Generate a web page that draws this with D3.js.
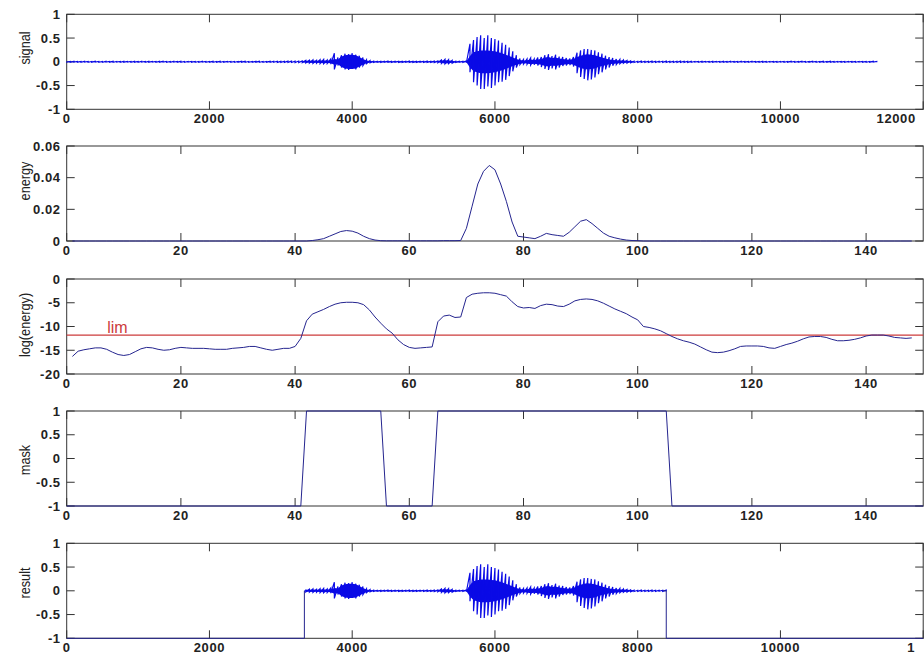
<!DOCTYPE html>
<html>
<head>
<meta charset="utf-8">
<script src="https://cdn.jsdelivr.net/npm/d3@7"></script>
<style>
  body { margin: 0; background: #fff; }
  svg text { font-family: "Liberation Sans", Arial, sans-serif; }
</style>
</head>
<body>
<div id="chart"></div>
<script>
// signal envelope, one max/min pair every 50 samples
const binStep = 50;
const sigHi = [
  0.008,0.006,0.009,0.007,0.008,0.01,0.007,0.008,0.009,0.006,0.008,0.01,0.007,0.009,0.008,0.007,0.01,0.008,0.006,0.009,
  0.008,0.01,0.007,0.009,0.008,0.006,0.009,0.01,0.008,0.007,0.009,0.008,0.01,0.007,0.008,0.009,0.006,0.008,0.01,0.008,
  0.007,0.009,0.008,0.01,0.007,0.008,0.009,0.006,0.008,0.01,0.009,0.007,0.008,0.009,0.01,0.008,0.007,0.009,0.01,0.011,
  0.01,0.012,0.013,0.015,0.014,0.016,
  0.02,0.03,0.035,0.04,0.03,0.045,0.05,0.04,0.06,0.18,0.09,0.14,0.17,0.16,0.18,0.15,0.13,0.09,0.04,0.025,0.015,
  0.012,0.01,0.011,0.013,0.01,0.012,0.011,0.01,0.012,0.013,0.011,0.01,0.012,0.011,0.013,0.012,0.015,
  0.02,0.04,0.05,0.045,0.03,0.012,0.01,0.011,0.02,
  0.38,0.46,0.52,0.56,0.5,0.56,0.5,0.48,0.45,0.4,0.36,0.3,0.22,0.14,0.07,0.05,0.06,0.08,0.06,0.09,
  0.1,0.14,0.16,0.12,0.15,0.11,0.1,0.08,0.07,0.1,0.19,0.24,0.27,0.27,0.25,0.24,0.2,0.17,0.13,0.1,
  0.08,0.06,0.05,0.04,0.03,0.02,0.015,
  0.012,0.013,0.012,0.011,0.013,0.012,0.012,0.011,0.013,0.012,0.011,0.012,0.013,0.012,0.011,0.01,
  0.008,0.007,0.009,0.008,0.006,0.009,0.008,0.007,0.009,0.008,0.01,0.007,0.008,0.009,0.006,0.008,0.009,0.007,0.008,0.01,
  0.007,0.008,0.009,0.006,0.008,0.009,0.007,0.01,0.008,0.007,0.009,0.008,0.006,0.009,0.008,0.007,0.009,0.008,0.01,0.007,
  0.008,0.009,0.007,0.008,0.009,0.006,0.008,0.009,0.007,0.008,0.009,0.008
];
const sigLo = [
  -0.007,-0.009,-0.006,-0.008,-0.01,-0.007,-0.009,-0.008,-0.006,-0.009,-0.01,-0.007,-0.008,-0.009,-0.006,-0.01,-0.008,-0.007,-0.009,-0.008,
  -0.009,-0.007,-0.01,-0.008,-0.006,-0.009,-0.008,-0.007,-0.01,-0.009,-0.007,-0.008,-0.009,-0.01,-0.007,-0.008,-0.009,-0.01,-0.007,-0.009,
  -0.008,-0.01,-0.007,-0.009,-0.008,-0.006,-0.01,-0.009,-0.007,-0.008,-0.01,-0.009,-0.008,-0.007,-0.009,-0.01,-0.008,-0.011,-0.009,-0.012,
  -0.011,-0.013,-0.012,-0.014,-0.015,-0.016,
  -0.02,-0.025,-0.03,-0.035,-0.03,-0.04,-0.04,-0.035,-0.05,-0.16,-0.08,-0.12,-0.16,-0.17,-0.15,-0.16,-0.12,-0.08,-0.04,-0.02,-0.015,
  -0.011,-0.012,-0.01,-0.011,-0.013,-0.01,-0.012,-0.011,-0.01,-0.012,-0.013,-0.011,-0.01,-0.012,-0.011,-0.013,-0.014,
  -0.02,-0.035,-0.045,-0.04,-0.03,-0.012,-0.011,-0.01,-0.02,
  -0.22,-0.43,-0.5,-0.57,-0.57,-0.52,-0.55,-0.5,-0.43,-0.42,-0.38,-0.3,-0.2,-0.12,-0.06,-0.05,-0.05,-0.07,-0.06,-0.08,
  -0.11,-0.15,-0.17,-0.14,-0.16,-0.12,-0.09,-0.08,-0.07,-0.1,-0.24,-0.32,-0.36,-0.39,-0.37,-0.33,-0.26,-0.22,-0.16,-0.12,
  -0.08,-0.06,-0.04,-0.03,-0.03,-0.02,-0.015,
  -0.012,-0.011,-0.013,-0.012,-0.012,-0.013,-0.011,-0.012,-0.012,-0.013,-0.012,-0.011,-0.012,-0.013,-0.012,-0.01,
  -0.007,-0.009,-0.008,-0.006,-0.009,-0.008,-0.007,-0.009,-0.008,-0.01,-0.007,-0.008,-0.009,-0.006,-0.008,-0.009,-0.007,-0.008,-0.01,-0.008,
  -0.009,-0.007,-0.008,-0.009,-0.007,-0.01,-0.008,-0.007,-0.009,-0.008,-0.006,-0.009,-0.008,-0.007,-0.009,-0.008,-0.01,-0.007,-0.008,-0.009,
  -0.007,-0.008,-0.009,-0.006,-0.008,-0.009,-0.007,-0.008,-0.009,-0.008,-0.007,-0.009
];
// half-width of the solid dense band inside the voiced parts, bins from sample 3300
const coreStart = 3300;
const sigCore = [
  0.015,0.02,0.02,0.025,0.02,0.025,0.03,0.025,0.03,
  0.06,0.05,0.11,0.14,0.15,0.15,0.14,0.1,0.06,0.03,0.015,0.01,
  0.008,0.008,0.008,0.009,0.008,0.008,0.009,0.008,0.008,0.009,0.008,0.008,0.009,0.008,0.008,0.009,0.008,
  0.01,0.025,0.035,0.03,0.02,0.008,0.008,0.008,0.01,
  0.12,0.2,0.22,0.24,0.24,0.24,0.23,0.22,0.2,0.18,0.15,0.12,0.09,0.06,0.04,
  0.03,0.035,0.05,0.04,0.05,0.06,0.09,0.1,0.08,0.09,0.07,0.06,0.05,0.045,0.06,
  0.1,0.13,0.15,0.16,0.15,0.14,0.11,0.09,0.07,0.05,0.04,0.035,0.03,0.025,0.02,0.015,0.01
];

// per-frame values, frames 1..n
const energy = [
  0,0,0,0,0,0,0,0,0,0, 0,0,0,0,0,0,0,0,0,0,
  0,0,0,0,0,0,0,0,0,0, 0,0,0,0,0,0,0,0,0,0,
  0,0,0.0003,0.0008,0.0015,0.003,0.0045,0.006,0.0066,0.0062,
  0.005,0.003,0.0015,0.0006,0.0002,0.0001,0.0001,0.0001,0.0001,0.0001,
  0.0001,0.0001,0.0001,0.0001,0.0001,0.0002,0.0002,0.0002,0.0003,0.008,
  0.022,0.036,0.044,0.0477,0.045,0.036,0.025,0.012,0.003,0.0025,
  0.002,0.0015,0.003,0.0048,0.004,0.0035,0.003,0.0055,0.009,0.0125,
  0.0135,0.011,0.008,0.005,0.003,0.002,0.0012,0.0006,0.0003,0.0002,
  0,0,0,0,0,0,0,0,0,0, 0,0,0,0,0,0,0,0,0,0,
  0,0,0,0,0,0,0,0,0,0, 0,0,0,0,0,0,0,0,0,0,
  0,0,0,0,0,0,0,0
];
const logEnergy = [
  -16.3,-15.2,-14.9,-14.7,-14.5,-14.5,-14.8,-15.4,-15.9,-16.1,
  -15.9,-15.3,-14.7,-14.4,-14.5,-14.8,-15.0,-14.9,-14.6,-14.4,
  -14.5,-14.6,-14.6,-14.6,-14.7,-14.8,-14.8,-14.8,-14.6,-14.5,
  -14.4,-14.2,-14.2,-14.5,-14.8,-15.0,-14.8,-14.6,-14.6,-14.2,
  -12.5,-8.8,-7.4,-6.9,-6.4,-5.8,-5.3,-5.0,-4.9,-4.9,
  -5.0,-5.4,-6.5,-8.0,-9.3,-10.5,-11.4,-12.8,-13.8,-14.4,
  -14.6,-14.5,-14.4,-14.3,-9.0,-7.8,-7.6,-8.1,-8.0,-3.9,
  -3.2,-3.0,-2.9,-2.9,-3.0,-3.3,-3.6,-4.8,-5.8,-6.1,
  -6.0,-6.2,-5.6,-5.3,-5.4,-5.7,-5.8,-5.3,-4.6,-4.3,
  -4.2,-4.3,-4.6,-5.1,-5.7,-6.3,-6.8,-7.3,-8.0,-8.6,
  -10.0,-10.2,-10.5,-10.9,-11.5,-12.1,-12.6,-13.0,-13.3,-13.7,
  -14.3,-14.9,-15.4,-15.5,-15.4,-15.1,-14.7,-14.2,-14.1,-14.1,
  -14.1,-14.2,-14.5,-14.6,-14.2,-13.8,-13.5,-13.1,-12.6,-12.2,
  -12.1,-12.1,-12.3,-12.7,-13.0,-13.0,-12.9,-12.7,-12.4,-12.0,
  -11.8,-11.8,-11.8,-12.0,-12.3,-12.4,-12.5,-12.4
];
const lim = -11.8;

// mask breakpoints (frame, value)
const maskFrames = [0, 41, 42, 55, 56, 64, 65, 105, 106, 150];
const maskValues = [-1, -1, 1, 1, -1, -1, 1, 1, -1, -1];

// result keeps the signal between these samples, -1 elsewhere
const speechStart = 3330, speechEnd = 8400;

const sampleTicks = [0, 2000, 4000, 6000, 8000, 10000, 12000];
const frameTicks = [0, 20, 40, 60, 80, 100, 120, 140];
const unitTicks = [-1, -0.5, 0, 0.5, 1];
const energyTicks = [0, 0.02, 0.04, 0.06];
const logTicks = [-20, -15, -10, -5, 0];

const width = 924, height = 655;
const left = 66.7, right = 923.2, panelH = 95;
const tickFont = 13, tickSpacing = 0.6;

const svg = d3.select("#chart").append("svg")
    .attr("width", width)
    .attr("height", height);

// one subplot: frame, ticks on all four sides, labels on left/bottom
function panel(top, xDom, yDom, xTicks, yTicks, label, labelY, xLabel) {
    const x = d3.scaleLinear().domain(xDom).range([left, right]);
    const y = d3.scaleLinear().domain(yDom).range([top + panelH, top]);
    const g = svg.append("g");

    g.append("rect")
        .attr("x", left).attr("y", top)
        .attr("width", right - left).attr("height", panelH)
        .attr("fill", "none")
        .attr("stroke", "#333")
        .attr("stroke-width", 1);

    const tickLen = 8;
    xTicks.forEach(t => {
        g.append("line").attr("x1", x(t)).attr("x2", x(t))
            .attr("y1", top + panelH).attr("y2", top + panelH - tickLen)
            .attr("stroke", "#333");
        g.append("line").attr("x1", x(t)).attr("x2", x(t))
            .attr("y1", top).attr("y2", top + tickLen)
            .attr("stroke", "#333");
    });
    yTicks.forEach(t => {
        g.append("line").attr("x1", left).attr("x2", left + tickLen)
            .attr("y1", y(t)).attr("y2", y(t))
            .attr("stroke", "#333");
        g.append("line").attr("x1", right).attr("x2", right - tickLen)
            .attr("y1", y(t)).attr("y2", y(t))
            .attr("stroke", "#333");
    });

    g.selectAll(".xl")
        .data(xTicks)
        .enter()
        .append("text")
        .attr("x", d => xLabel(d, x))
        .attr("y", top + panelH + 14)
        .attr("text-anchor", "middle")
        .attr("font-size", tickFont)
        .attr("font-weight", "bold")
        .attr("letter-spacing", tickSpacing)
        .attr("fill", "#222")
        .text(d => d);

    g.selectAll(".yl")
        .data(yTicks)
        .enter()
        .append("text")
        .attr("x", left - 6)
        .attr("y", d => y(d))
        .attr("dy", "0.35em")
        .attr("text-anchor", "end")
        .attr("font-size", tickFont)
        .attr("font-weight", "bold")
        .attr("letter-spacing", tickSpacing)
        .attr("fill", "#222")
        .text(d => d);

    g.append("text")
        .attr("transform", `translate(29.5,${labelY}) rotate(-90) scale(0.82,1)`)
        .attr("text-anchor", "middle")
        .attr("font-size", 15.5)
        .attr("fill", "#222")
        .text(label);

    return { g, x, y };
}

const centred = (d, x) => x(d);

// envelope drawn as vertical max-min strokes joined bin to bin
function envelopePoints(from, to) {
    const pts = [];
    sigHi.forEach((h, i) => {
        const s = i * binStep;
        if (s < from || s > to) return;
        pts.push([s, h]);
        pts.push([s, sigLo[i]]);
    });
    return pts;
}

function corePoints(from, to) {
    return sigCore
        .map((c, i) => [coreStart + i * binStep, c])
        .filter(d => d[0] >= from && d[0] <= to);
}

const sigColor = "#0a0ae6";
const lineColor = "#25258f";

function drawSignal(p, from, to) {
    p.g.append("path")
        .datum(corePoints(from, to))
        .attr("fill", sigColor)
        .attr("d", d3.area().x(d => p.x(d[0])).y0(d => p.y(-d[1])).y1(d => p.y(d[1])));
    p.g.append("path")
        .datum(envelopePoints(from, to))
        .attr("fill", "none")
        .attr("stroke", sigColor)
        .attr("stroke-width", 1.2)
        .attr("d", d3.line().x(d => p.x(d[0])).y(d => p.y(d[1])));
}

// 1) signal
const p1 = panel(14.3, [0, 12000], [-1, 1], sampleTicks, unitTicks, "signal", 48,
    (d, x) => d === 12000 ? x(d) - 27 : x(d));
drawSignal(p1, 0, 12000);

// 2) energy
const p2 = panel(146, [0, 150], [0, 0.06], frameTicks, energyTicks, "energy", 181, centred);
p2.g.append("path")
    .datum(energy)
    .attr("fill", "none")
    .attr("stroke", lineColor)
    .attr("stroke-width", 1)
    .attr("d", d3.line().x((d, i) => p2.x(i + 1)).y(d => p2.y(d)));

// 3) log(energy) with threshold
const p3 = panel(279, [0, 150], [-20, 0], frameTicks, logTicks, "log(energy)", 325, centred);
p3.g.append("line")
    .attr("x1", p3.x(0)).attr("x2", p3.x(150))
    .attr("y1", p3.y(lim)).attr("y2", p3.y(lim))
    .attr("stroke", "#cc3b3b")
    .attr("stroke-width", 1.3);
p3.g.append("text")
    .attr("x", p3.x(7.1))
    .attr("y", p3.y(lim) - 2)
    .attr("font-size", 16)
    .attr("fill", "#cc3b3b")
    .text("lim");
p3.g.append("path")
    .datum(logEnergy)
    .attr("fill", "none")
    .attr("stroke", lineColor)
    .attr("stroke-width", 1)
    .attr("d", d3.line().x((d, i) => p3.x(i + 1)).y(d => p3.y(d)));

// 4) mask
const p4 = panel(411, [0, 150], [-1, 1], frameTicks, unitTicks, "mask", 460, centred);
p4.g.append("path")
    .datum(maskFrames.map((f, i) => [f, maskValues[i]]))
    .attr("fill", "none")
    .attr("stroke", lineColor)
    .attr("stroke-width", 1)
    .attr("d", d3.line().x(d => p4.x(d[0])).y(d => p4.y(d[1])));

// 5) result (the last tick label is cut by the figure edge in the original)
const p5 = panel(543.3, [0, 12000], [-1, 1], sampleTicks.slice(0, -1), unitTicks, "result", 583, centred);
p5.g.append("text")
    .attr("x", p5.x(12000) - 16)
    .attr("y", 543.3 + panelH + 14)
    .attr("font-size", tickFont)
    .attr("font-weight", "bold")
    .attr("fill", "#222")
    .text("1");
[p5.y(1), p5.y(-1)].forEach(yy => {
    p5.g.append("line").attr("x1", p5.x(12000)).attr("x2", p5.x(12000))
        .attr("y1", yy).attr("y2", yy === p5.y(1) ? yy + 8 : yy - 8)
        .attr("stroke", "#333");
});
p5.g.append("path")
    .datum([[0, -1], [speechStart, -1], [speechStart, 0]])
    .attr("fill", "none")
    .attr("stroke", lineColor)
    .attr("stroke-width", 1)
    .attr("d", d3.line().x(d => p5.x(d[0])).y(d => p5.y(d[1])));
drawSignal(p5, speechStart, speechEnd);
p5.g.append("path")
    .datum([[speechStart, 0], [speechStart + binStep, 0]])
    .attr("stroke", sigColor)
    .attr("d", d3.line().x(d => p5.x(d[0])).y(d => p5.y(d[1])));
p5.g.append("path")
    .datum([[speechEnd - binStep, 0], [speechEnd, 0], [speechEnd, -1], [12000, -1]])
    .attr("fill", "none")
    .attr("stroke", lineColor)
    .attr("stroke-width", 1)
    .attr("d", d3.line().x(d => p5.x(d[0])).y(d => p5.y(d[1])));
</script>
</body>
</html>
